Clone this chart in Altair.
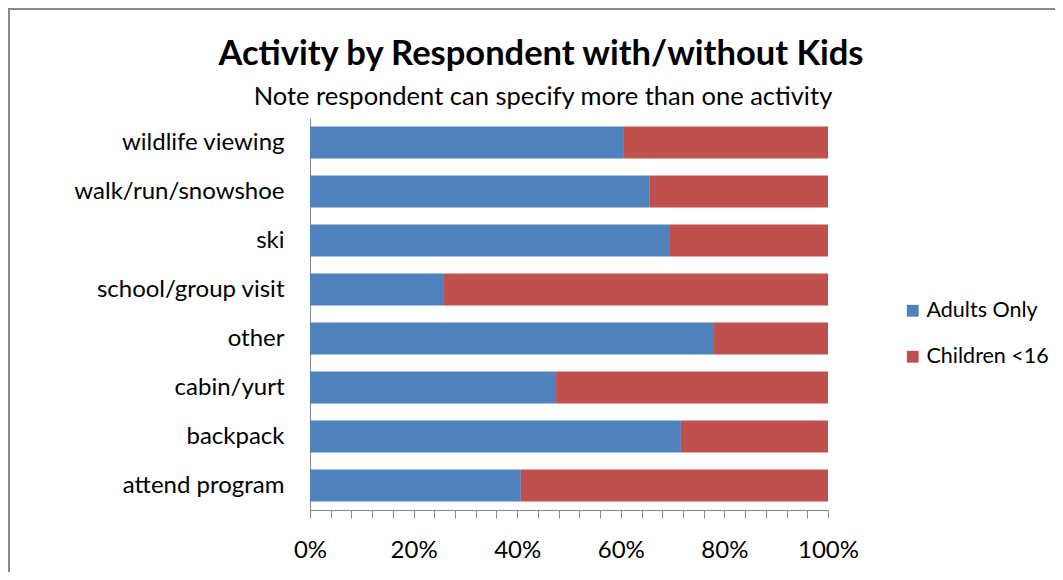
import altair as alt
import pandas as pd

activities = ["wildlife viewing", "walk/run/snowshoe", "ski", "school/group visit",
              "other", "cabin/yurt", "backpack", "attend program"]
adults_only = [60.6, 65.6, 69.5, 25.7, 78.0, 47.5, 71.6, 40.7]
children_u16 = [39.4, 34.4, 30.5, 74.3, 22.0, 52.5, 28.4, 59.3]
series = ["Adults Only", "Children <16"]
x_ticks = [i / 25 for i in range(26)]
title_text = "Activity by Respondent with/without Kids"
subtitle_text = "Note respondent can specify more than one activity"

rows = []
for a, v1, v2 in zip(activities, adults_only, children_u16):
    rows.append({"activity": a, "group": series[0], "value": v1, "ord": 0})
    rows.append({"activity": a, "group": series[1], "value": v2, "ord": 1})
df = pd.DataFrame(rows)

FONT = "Lato"

bars = alt.Chart(df).mark_bar().encode(
    y=alt.Y("activity:N", sort=activities,
            scale=alt.Scale(paddingInner=0.35, paddingOuter=0.175),
            axis=alt.Axis(title=None, ticks=False, domainColor="#868686",
                          labelFontSize=24, labelPadding=26, labelColor="#000000",
                          labelFont=FONT, labelLimit=300)),
    x=alt.X("value:Q", stack="normalize",
            scale=alt.Scale(domain=[0, 1], nice=False),
            axis=alt.Axis(title=None, values=x_ticks, grid=False, tickSize=8,
                          tickColor="#868686", domainColor="#868686",
                          labelExpr="round(datum.value*25) % 5 == 0 ? format(datum.value, '.0%') : ''",
                          labelFontSize=24, labelPadding=20, labelColor="#000000",
                          labelFont=FONT, labelFlush=False, labelOverlap=False)),
    color=alt.Color("group:N", sort=series,
                    scale=alt.Scale(domain=series, range=["#4F81BD", "#C0504D"]),
                    legend=alt.Legend(title=None, orient="none", legendX=592, legendY=182,
                                      symbolType="square", symbolSize=140,
                                      symbolStrokeWidth=0, labelFontSize=21.5,
                                      labelFont=FONT, labelColor="#000000",
                                      rowPadding=23, labelOffset=3)),
    order=alt.Order("ord:Q"),
)

title = alt.Chart(alt.Data(values=[{"t": title_text}])).mark_text(
    font=FONT, fontSize=34.5, fontWeight="bold", color="#000000",
    align="center", baseline="alphabetic"
).encode(text="t:N", x=alt.value(231), y=alt.value(-53))

subtitle = alt.Chart(alt.Data(values=[{"t": subtitle_text}])).mark_text(
    font=FONT, fontSize=25.5, color="#000000",
    align="center", baseline="alphabetic"
).encode(text="t:N", x=alt.value(233), y=alt.value(-13))

border = alt.Chart(alt.Data(values=[{"k": 1}])).mark_rect(
    filled=False, stroke="#888888", strokeWidth=2
).encode(x=alt.value(-301), x2=alt.value(900), y=alt.value(-109), y2=alt.value(600))

chart = alt.layer(bars, title, subtitle, border).properties(
    width=518, height=392,
    autosize=alt.AutoSizeParams(type="none"),
    padding={"left": 302, "top": 110, "right": 227, "bottom": 62},
).configure_view(stroke=None)

chart.save("out.html", embed_options={"renderer": "svg", "actions": False})
